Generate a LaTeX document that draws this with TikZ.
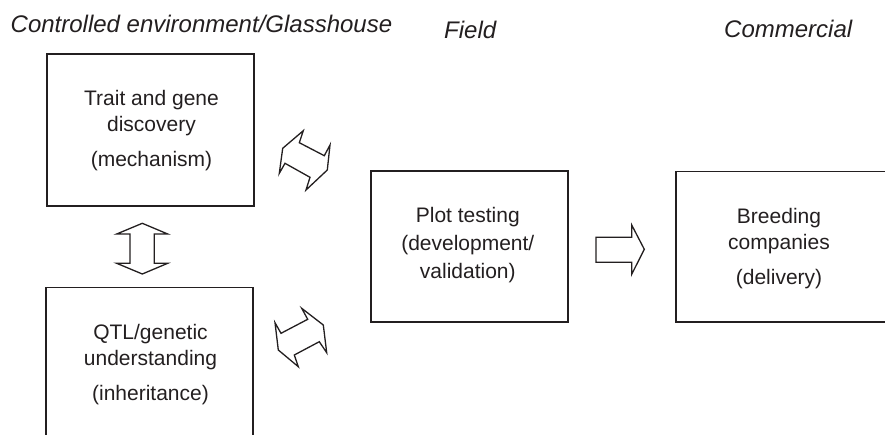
\documentclass[tikz,border=0pt]{standalone}
\usepackage{fontspec}
\setmainfont{Liberation Sans}
\definecolor{ink}{HTML}{231F20}
\tikzset{
  box/.style={draw=ink, line width=1.5pt, rectangle, inner sep=0pt, outer sep=0pt},
  lbl/.style={text=ink, inner sep=0pt, anchor=base, font=\fontsize{21}{26}\selectfont},
  hdr/.style={text=ink, inner sep=0pt, anchor=base west, font=\fontsize{24}{28}\selectfont\itshape},
  barrow/.style={draw=ink, line width=1.3pt, line join=miter, fill=white}
}
\begin{document}
\begin{tikzpicture}[x=1pt,y=-1pt]
\useasboundingbox (0,0) rectangle (885,435);
\clip (0,0) rectangle (885,435);
% headers
\node[hdr] (h1) at (10.5,32.3) {Controlled environment/Glasshouse};
\node[hdr] (h2) at (444,38.3) {Field};
\node[hdr] (h3) at (724,37.7) {Commercial};
% boxes
\node[box, minimum width=207pt, minimum height=152pt] (b1) at (150.5,130) {};
\node[box, minimum width=207pt, minimum height=158pt] (b2) at (149.5,366.3) {};
\node[box, minimum width=197pt, minimum height=151pt] (b3) at (469.5,246.5) {};
\node[box, minimum width=224pt, minimum height=150.3pt] (b4) at (788,246.85) {};
% labels
\node[lbl] (t1) at (151.5,105.7) {\begin{tabular}[t]{@{}c@{}}Trait and gene\\discovery\\[9pt](mechanism)\end{tabular}};
\node[lbl] (t2) at (150.5,339) {\begin{tabular}[t]{@{}c@{}}QTL/genetic\\understanding\\[9pt](inheritance)\end{tabular}};
\node[lbl] (t3) at (467.8,222.3) {\begin{tabular}[t]{@{}c@{}}Plot testing\\[2.4pt](development/\\[1.7pt]validation)\end{tabular}};
\node[lbl] (t4) at (779,224) {\begin{tabular}[t]{@{}c@{}}Breeding\\companies\\[9pt](delivery)\end{tabular}};
% vertical double arrow
\draw[barrow] (142.3,223.3) -- (167.7,234) -- (154.3,234) -- (154.3,263.3) -- (167.7,263.3)
  -- (142.3,274) -- (116.7,263.3) -- (130,263.3) -- (130,234) -- (116.7,234) -- cycle;
% right arrow
\draw[barrow] (596,237.3) -- (631.7,237.3) -- (631.7,225) -- (644.3,249.3) -- (631.7,274.3)
  -- (631.7,262.3) -- (596,262.3) -- cycle;
% upper diagonal double arrow
\draw[barrow] (303.3,130.7) -- (299.3,142.7) -- (324.3,155.7) -- (330,145) -- (327.3,170)
  -- (306,190) -- (310,177.3) -- (285,163.3) -- (279.3,173.3) -- (282.7,148.3) -- cycle;
% lower diagonal double arrow
\draw[barrow] (301.7,308.3) -- (323.3,325) -- (326.7,352.7) -- (319.3,341.7) -- (294.3,355)
  -- (298.3,366.7) -- (278.3,350) -- (275,322.7) -- (281,333.3) -- (307.7,319.3) -- cycle;
\end{tikzpicture}
\end{document}
